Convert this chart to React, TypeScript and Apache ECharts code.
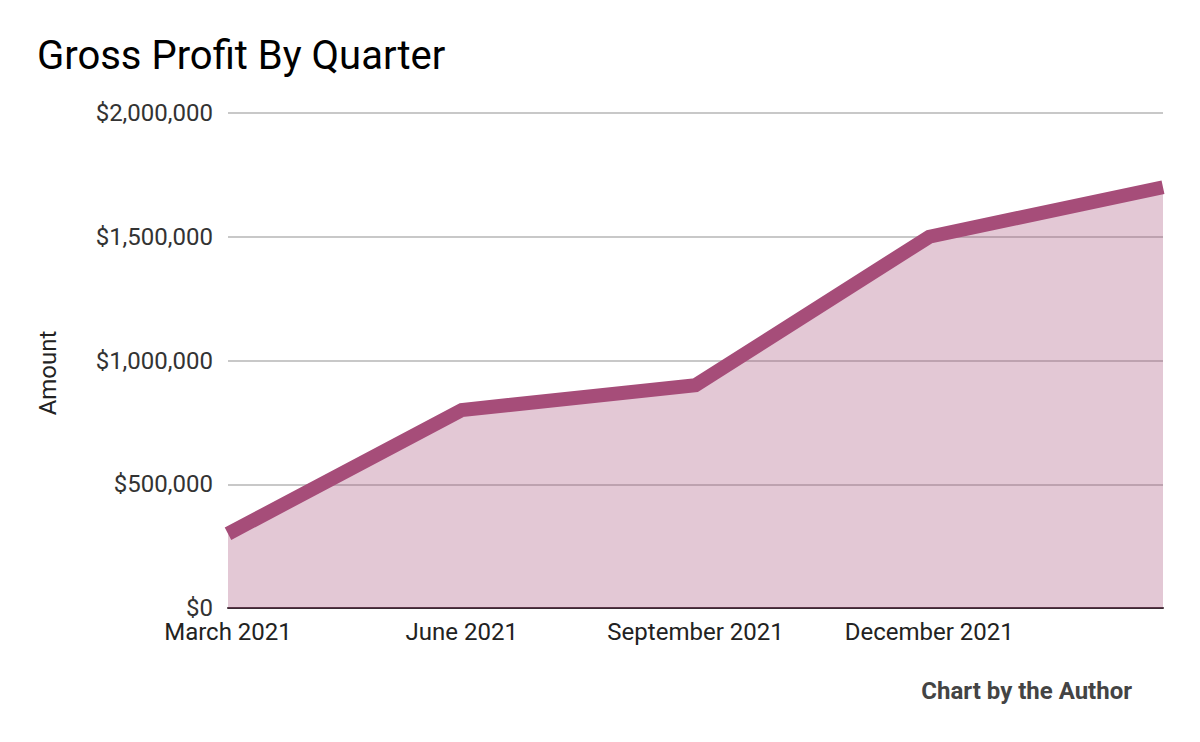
import React, { useEffect, useRef } from "react";
import * as echarts from "echarts";

const categories = ["March 2021", "June 2021", "September 2021", "December 2021", ""];
const grossProfit = [300000, 800000, 900000, 1500000, 1700000];
const yTicks = { min: 0, max: 2000000, interval: 500000 };

const fmt = (v: number) => "$" + v.toLocaleString("en-US");

export default function App() {
  const ref = useRef<HTMLDivElement>(null);
  useEffect(() => {
    const chart = echarts.init(ref.current!, null, { renderer: "svg" });
    chart.setOption({
      animation: false,
      textStyle: { fontFamily: "Roboto" },
      title: {
        text: "Gross Profit By Quarter",
        left: 32,
        top: 30,
        textStyle: { fontFamily: "Roboto", fontSize: 40, fontWeight: "normal", color: "#000" },
      },
      graphic: [
        {
          type: "text",
          right: 68,
          top: 679,
          style: {
            text: "Chart by the Author",
            font: "bold 24px Roboto",
            fill: "#444",
          },
        },
        {
          type: "text",
          x: 48,
          y: 373,
          rotation: Math.PI / 2,
          style: {
            text: "Amount",
            font: "24px Roboto",
            fill: "#222",
            align: "center",
            verticalAlign: "middle",
          },
        },
      ],
      grid: { left: 228, right: 37, top: 113, bottom: 134, containLabel: false },
      xAxis: {
        type: "category",
        data: categories,
        boundaryGap: false,
        axisLine: { show: true, lineStyle: { color: "#3a2a33", width: 2 } },
        axisTick: { show: false },
        axisLabel: { color: "#222", fontSize: 24, margin: 12, fontFamily: "Roboto", interval: 0 },
        splitLine: { show: false },
      },
      yAxis: {
        type: "value",
        min: yTicks.min,
        max: yTicks.max,
        interval: yTicks.interval,
        axisLine: { show: false },
        axisTick: { show: false },
        axisLabel: { color: "#333", fontSize: 24, margin: 15, fontFamily: "Roboto", formatter: fmt },
        splitLine: { lineStyle: { color: "#c8c8c8", width: 2 } },
      },
      series: [
        {
          type: "line",
          data: grossProfit,
          symbol: "none",
          clip: true,
          lineStyle: { color: "#a64d79", width: 14, join: "miter" },
          areaStyle: { color: "#a64d79", opacity: 0.31 },
        },
      ],
    });
    return () => chart.dispose();
  }, []);
  return <div ref={ref} style={{ width: 1200, height: 742, margin: -8 }} />;
}
